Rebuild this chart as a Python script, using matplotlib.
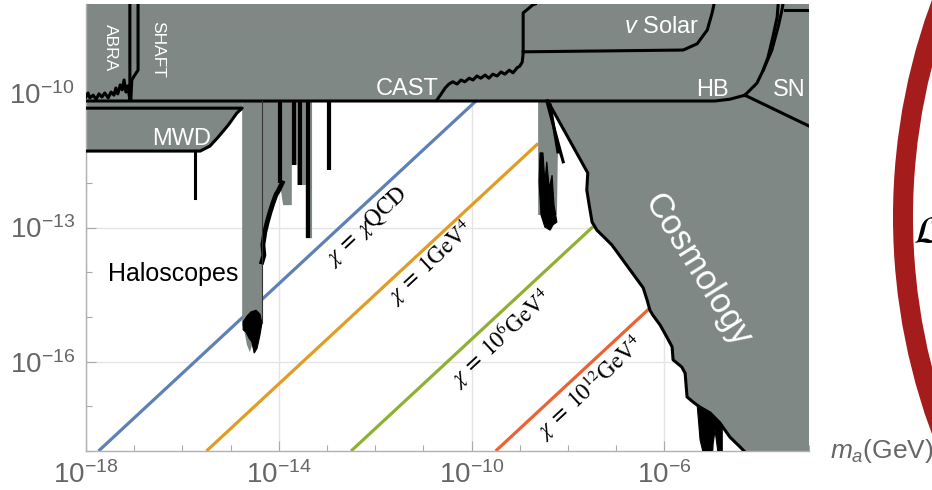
import numpy as np
import matplotlib.pyplot as plt
from matplotlib.ticker import NullFormatter
from matplotlib.patches import Circle

plt.rcParams['font.family'] = ['Liberation Sans', 'DejaVu Sans']
plt.rcParams['mathtext.fontset'] = 'custom'
plt.rcParams['mathtext.rm'] = 'Liberation Sans'
plt.rcParams['mathtext.it'] = 'Liberation Sans:italic'
plt.rcParams['mathtext.bf'] = 'Liberation Sans:bold'

GRAY = '#7f8885'
TXT = '#666666'

# everything below is log10(m_a / GeV) and log10(g / GeV^-1)
x_ticks = [-18, -14, -10, -6]
y_ticks = [-16, -13, -10]

top_band_m = [-18, -3, -3, -18]
top_band_g = [-8, -8, -10.17, -10.17]

mwd_m = [-18, -14.76, -14.76, -14.87, -15.05, -15.26, -15.43, -15.63, -18]
mwd_g = [-10.17, -10.17, -10.33, -10.44, -10.71, -10.98, -11.18, -11.29, -11.29]
mwd_spike_m = [-15.74, -15.74]
mwd_spike_g = [-11.29, -12.34]

abra_m = [-18.00, -17.96, -17.92, -17.85, -17.79, -17.73, -17.67, -17.61, -17.54, -17.48,
          -17.42, -17.38, -17.34, -17.29, -17.25, -17.21, -17.17, -17.13, -17.09, -17.09]
abra_g = [-10.08, -9.99, -10.10, -10.04, -10.13, -10.01, -10.08, -9.99, -10.10, -9.97,
          -10.04, -9.88, -10.01, -9.81, -9.92, -9.70, -9.97, -9.83, -10.15, -8.0]
shaft_m = [-16.92, -16.92, -17.00, -17.05, -17.07]
shaft_g = [-8.0, -9.48, -9.61, -9.70, -10.15]

hb_m = [-18, -4.95, -4.64, -4.33]
hb_g = [-10.17, -10.17, -10.13, -10.04]

cast_m = [-10.72, -10.63, -10.55, -10.47, -10.39, -10.30, -10.22, -10.14, -10.05, -9.97, -9.89,
          -9.81, -9.72, -9.64, -9.56, -9.47, -9.39, -9.31, -9.22, -9.14, -9.06, -9.00, -8.95,
          -8.93, -8.93, -8.73, -8.68]
cast_g = [-10.15, -10.01, -9.88, -9.79, -9.74, -9.79, -9.70, -9.74, -9.66, -9.70, -9.61,
          -9.66, -9.59, -9.66, -9.57, -9.61, -9.52, -9.57, -9.48, -9.54, -9.43, -9.39, -9.30,
          -9.10, -8.20, -8.02, -8.0]

solar_m = [-8.93, -5.61, -5.32, -5.11, -5.01, -4.97]
solar_g = [-9.07, -9.03, -8.89, -8.58, -8.20, -8.0]

hb_up1_m = [-4.33, -4.08, -3.95, -3.85, -3.75, -3.66, -3.64]
hb_up1_g = [-10.04, -9.77, -9.48, -9.19, -8.74, -8.29, -8.0]
hb_up2_m = [-3.95, -3.77, -3.64, -3.56, -3.54]
hb_up2_g = [-9.48, -9.03, -8.51, -8.13, -8.0]
top_right_m = [-3.50, -3.0]
top_right_g = [-8.13, -8.13]
sn_m = [-4.33, -3.0]
sn_g = [-10.04, -10.73]

halo_m = [-14.76, -13.31, -13.31, -13.44, -13.44, -13.62, -13.62, -13.73, -13.73, -13.91, -13.98,
          -14.06, -14.14, -14.22, -14.29, -14.33, -14.35, -14.43, -14.51, -14.60, -14.66, -14.72, -14.76]
halo_g = [-10.17, -10.17, -13.24, -13.24, -12.05, -12.05, -11.60, -11.60, -12.50, -12.50, -12.00,
          -12.27, -12.50, -12.83, -13.10, -13.39, -15.07, -15.29, -15.47, -15.79, -15.63, -15.29, -15.18]
halo_stair_m = [-13.93, -14.00, -14.06, -14.12, -14.18, -14.24, -14.29, -14.33, -14.31, -14.35]
halo_stair_g = [-12.00, -12.16, -12.27, -12.45, -12.65, -12.88, -13.10, -13.39, -13.62, -13.77]
halo_low_m = [-14.74, -14.66, -14.58, -14.47, -14.39, -14.35, -14.39, -14.45, -14.51, -14.56,
              -14.62, -14.68, -14.74]
halo_low_g = [-15.11, -14.98, -14.89, -14.85, -14.94, -15.14, -15.40, -15.70, -15.81, -15.56,
              -15.47, -15.34, -15.29]
spike_m = [-13.98, -13.68, -13.56, -13.39, -12.96]
spike_g = [-12.00, -11.60, -12.05, -13.24, -11.71]
thin_m = [-14.35, -14.35]
thin_g = [-10.17, -15.14]

col_m = [-8.62, -8.40, -8.10, -8.21, -8.23, -8.62]
col_g = [-10.17, -10.17, -11.53, -11.31, -12.72, -12.72]
col_black_m = [-8.58, -8.52, -8.48, -8.44, -8.39, -8.33, -8.29, -8.23, -8.31, -8.37, -8.48, -8.56, -8.60]
col_black_g = [-11.33, -11.33, -11.98, -11.53, -12.12, -11.83, -12.50, -12.88, -12.94, -13.06, -12.99, -12.72, -11.98]
diag1_m = [-8.44, -8.10]
diag1_g = [-10.17, -11.53]
diag2_m = [-8.37, -8.21]
diag2_g = [-10.26, -11.31]

cosmo_m = [-8.42, -7.59, -7.61, -7.56, -7.50, -7.40, -7.23, -7.09, -6.44, -6.36, -6.30, -6.24, -6.09,
           -5.95, -5.84, -5.82, -5.64, -5.57, -5.53, -5.41, -5.26, -5.05, -4.85, -4.64, -4.43, -4.33]
cosmo_g = [-10.17, -11.78, -12.16, -12.50, -12.88, -13.06, -13.24, -13.39, -14.35, -14.62, -14.85, -14.96, -15.18,
           -15.45, -15.67, -15.96, -16.12, -16.26, -16.79, -16.90, -17.02, -17.15, -17.37, -17.69, -17.91, -18.02]
blob_m = [-5.32, -5.26, -5.20, -5.01, -4.95, -4.89, -4.80, -4.80, -5.05]
blob_g = [-16.97, -17.75, -18.02, -18.02, -17.53, -18.02, -18.02, -17.42, -17.15]

# chi lines: start/end points
chi_labels = [r'$\chi\;=\;\chi\mathrm{QCD}$', r'$\chi\;=\;1\mathrm{GeV}^4$',
              r'$\chi\;=\;10^6\mathrm{GeV}^4$', r'$\chi\;=\;10^{12}\mathrm{GeV}^4$']
chi_colors = ['#5e81b5', '#e19c24', '#8fb032', '#eb6235']
chi_m = [[-17.74, -9.87], [-15.5, -8.62], [-12.5, -7.48], [-9.5, -6.32]]
chi_g = [[-18, -10.13], [-18, -11.12], [-18, -12.98], [-18, -14.82]]
chi_label_m = [-12.17, -10.86, -9.41, -7.54]
chi_label_g = [-12.97, -13.79, -15.47, -16.59]

region_names = ['ABRA', 'SHAFT', 'CAST', 'MWD', r'$\mathit{v}$ Solar', 'HB', 'SN', 'Cosmology']
region_m = [-17.50, -16.51, -11.34, -16.01, -6.05, -5.01, -3.41, -5.32]
region_g = [-8.98, -9.01, -9.90, -11.02, -8.51, -9.92, -9.92, -13.95]


def P(v):
    return 10.0 ** np.array(v)


fig = plt.figure(figsize=(9.32, 4.9), dpi=100)
ax = fig.add_axes([86 / 932, 39 / 490, 723 / 932, 447 / 490])
ax.set_xscale('log')
ax.set_yscale('log')
ax.set_xlim(1e-18, 1e-3)
ax.set_ylim(1e-18, 1e-8)

for m, g, c in zip(chi_m, chi_g, chi_colors):
    ax.plot(P(m), P(g), color=c, lw=2.3, zorder=1.5, solid_capstyle='butt')
for lab, m, g in zip(chi_labels, chi_label_m, chi_label_g):
    ax.text(P(m), P(g), lab, fontsize=16.5, math_fontfamily='stix', rotation=43,
            rotation_mode='anchor', ha='center', va='center', zorder=5)

for m, g in [(top_band_m, top_band_g), (mwd_m, mwd_g), (halo_m, halo_g),
             (col_m, col_g), (cosmo_m + [-3, -3], cosmo_g + [-18.02, -10.17])]:
    ax.fill(P(m), P(g), color=GRAY, lw=0, zorder=2)
for m, g in [(col_black_m, col_black_g), (blob_m, blob_g), (halo_low_m, halo_low_g)]:
    ax.fill(P(m), P(g), color='k', lw=0.8, ec='k', zorder=3)

outlines = [(abra_m, abra_g), (shaft_m, shaft_g), (hb_m, hb_g), (cast_m, cast_g),
            (solar_m, solar_g), (hb_up1_m, hb_up1_g), (hb_up2_m, hb_up2_g),
            (top_right_m, top_right_g), (sn_m, sn_g), (cosmo_m, cosmo_g),
            ([-18] + mwd_m[2:], [-10.33] + mwd_g[2:]), (mwd_spike_m, mwd_spike_g),
            (diag1_m, diag1_g), (diag2_m, diag2_g)]
for m, g in outlines:
    ax.plot(P(m), P(g), color='k', lw=2.2, zorder=4)
ax.plot(P(halo_stair_m), P(halo_stair_g), color='k', lw=3.5, zorder=4)
for m, g in zip(spike_m, spike_g):
    ax.plot(P([m, m]), P([-10.17, g]), color='k', lw=3, zorder=4, solid_capstyle='butt')
ax.plot(P(thin_m), P(thin_g), color='#333333', lw=0.8, zorder=4)

for name, m, g in zip(region_names, region_m, region_g):
    rot, fs = 0, 17
    if name in ('ABRA', 'SHAFT'):
        rot, fs = 270, 12.5
    if name == 'Cosmology':
        rot, fs = -58, 25
    ax.text(P(m), P(g), name, color='white', fontsize=fs, rotation=rot,
            rotation_mode='anchor', ha='center', va='center', zorder=5)
ax.text(P(-16.20), P(-14.04), 'Haloscopes', color='k', fontsize=18,
        ha='center', va='center', zorder=5)

ax.set_xticks(P(x_ticks), labels=[f'$10^{{{t}}}$' for t in x_ticks])
ax.set_yticks(P(y_ticks), labels=[f'$10^{{{t}}}$' for t in y_ticks])
ax.set_xticks(P(range(-18, -2)), minor=True)
ax.set_yticks(P(range(-18, -7)), minor=True)
ax.xaxis.set_minor_formatter(NullFormatter())
ax.yaxis.set_minor_formatter(NullFormatter())
ax.tick_params(which='both', direction='in', color='#aaaaaa', labelcolor=TXT, labelsize=20)
ax.tick_params(which='major', length=7, width=0.8)
ax.tick_params(which='minor', length=4, width=0.8)
ax.tick_params(axis='x', pad=7)
ax.tick_params(axis='y', pad=8)
ax.grid(True, which='major', color='#e4e4e4', lw=1)
ax.set_axisbelow(True)
for s in ('top', 'right'):
    ax.spines[s].set_visible(False)
for s in ('left', 'bottom'):
    ax.spines[s].set_color('#b0b0b0')
    ax.spines[s].set_linewidth(1)

# cropped neighbour panel on the right edge
over = fig.add_axes([0, 0, 1, 1], facecolor='none')
over.set_xlim(0, 932)
over.set_ylim(490, 0)
over.axis('off')
over.add_patch(Circle((1518, 217), 615, fill=False, lw=14.4, ec='#a51c1c'))
over.text(913, 233, r'$\mathcal{L}$', fontsize=28, math_fontfamily='stix', ha='left', va='center')
over.text(830, 451, r'$m_a$(GeV)', color=TXT, fontsize=19, ha='left', va='center')

fig.savefig('out.png', dpi=100)
